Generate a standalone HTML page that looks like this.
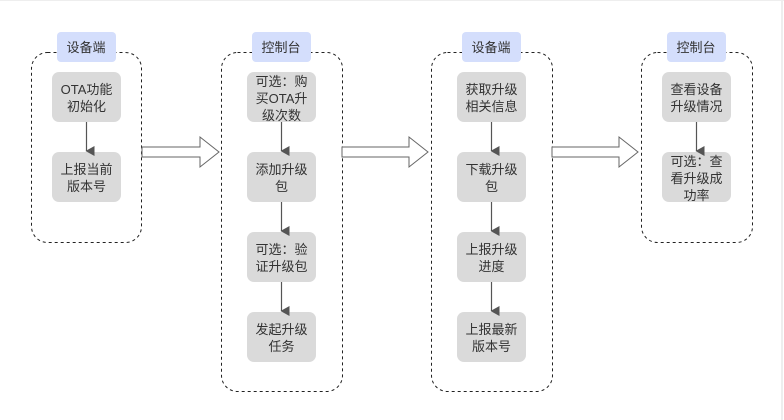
<!DOCTYPE html>
<html><head><meta charset="utf-8"><style>
html,body{margin:0;padding:0;background:#fff}
svg{display:block}
text{font-family:"Liberation Sans","Noto Sans CJK SC",sans-serif;font-size:13px;fill:#333;text-anchor:middle}
</style></head><body>
<svg width="784" height="420" viewBox="0 0 784 420" xmlns="http://www.w3.org/2000/svg">
<defs><marker id="a" markerWidth="10" markerHeight="10" refX="5" refY="8" orient="auto" markerUnits="userSpaceOnUse"><path d="M0,0 L10,0 L5,9 z" fill="#555"/></marker></defs>
<line x1="782" y1="0" x2="782" y2="420" stroke="#ddd"/>
<line x1="0" y1="0.5" x2="784" y2="0.5" stroke="#eee"/>
<g fill="none" stroke="#222" stroke-dasharray="3,3">
<rect x="31.5" y="52.5" width="110" height="190" rx="16"/>
<rect x="221.5" y="52.5" width="121" height="339" rx="16"/>
<rect x="431.5" y="52.5" width="121" height="339" rx="16"/>
<rect x="641.5" y="52.5" width="111" height="190" rx="16"/>
</g>
<g fill="#d4defc">
<rect x="57" y="32" width="59" height="30" rx="4"/>
<rect x="252" y="32" width="59" height="30" rx="4"/>
<rect x="462" y="32" width="59" height="30" rx="4"/>
<rect x="667" y="32" width="59" height="30" rx="4"/>
</g>
<text x="86" y="52">设备端</text><text x="281" y="52">控制台</text><text x="491" y="52">设备端</text><text x="696" y="52">控制台</text>
<g fill="#fff" stroke="#666">
<path d="M142,147 H200 V137 L219,152 L200,167 V157 H142 Z"/>
<path d="M342,147 H409 V137 L428,152 L409,167 V157 H342 Z"/>
<path d="M552,147 H619 V137 L638,152 L619,167 V157 H552 Z"/>
</g>
<g fill="#dadada">
<rect x="52" y="72" width="69" height="50" rx="7"/><rect x="52" y="152" width="69" height="50" rx="7"/>
<rect x="247" y="72" width="69" height="50" rx="7"/><rect x="247" y="152" width="69" height="50" rx="7"/><rect x="247" y="232" width="69" height="50" rx="7"/><rect x="247" y="312" width="69" height="50" rx="7"/>
<rect x="457" y="72" width="69" height="50" rx="7"/><rect x="457" y="152" width="69" height="50" rx="7"/><rect x="457" y="232" width="69" height="50" rx="7"/><rect x="457" y="312" width="69" height="50" rx="7"/>
<rect x="662" y="72" width="69" height="50" rx="7"/><rect x="662" y="152" width="69" height="50" rx="7"/>
</g>
<g stroke="#555" stroke-width="1.2" marker-end="url(#a)">
<line x1="86.5" y1="122" x2="86.5" y2="151"/>
<line x1="281.5" y1="122" x2="281.5" y2="151"/><line x1="281.5" y1="202" x2="281.5" y2="231"/><line x1="281.5" y1="282" x2="281.5" y2="311"/>
<line x1="491.5" y1="122" x2="491.5" y2="151"/><line x1="491.5" y1="202" x2="491.5" y2="231"/><line x1="491.5" y1="282" x2="491.5" y2="311"/>
<line x1="696.5" y1="122" x2="696.5" y2="151"/>
</g>
<text x="86.5" y="94">OTA功能</text><text x="86.5" y="111">初始化</text>
<text x="86.5" y="174">上报当前</text><text x="86.5" y="191">版本号</text>
<text x="281.5" y="86">可选：购</text><text x="281.5" y="103">买OTA升</text><text x="281.5" y="120">级次数</text>
<text x="281.5" y="174">添加升级</text><text x="281.5" y="191">包</text>
<text x="281.5" y="254">可选：验</text><text x="281.5" y="271">证升级包</text>
<text x="281.5" y="334">发起升级</text><text x="281.5" y="351">任务</text>
<text x="491.5" y="94">获取升级</text><text x="491.5" y="111">相关信息</text>
<text x="491.5" y="174">下载升级</text><text x="491.5" y="191">包</text>
<text x="491.5" y="254">上报升级</text><text x="491.5" y="271">进度</text>
<text x="491.5" y="334">上报最新</text><text x="491.5" y="351">版本号</text>
<text x="696.5" y="94">查看设备</text><text x="696.5" y="111">升级情况</text>
<text x="696.5" y="166">可选：查</text><text x="696.5" y="183">看升级成</text><text x="696.5" y="200">功率</text>
</svg>
</body></html>
